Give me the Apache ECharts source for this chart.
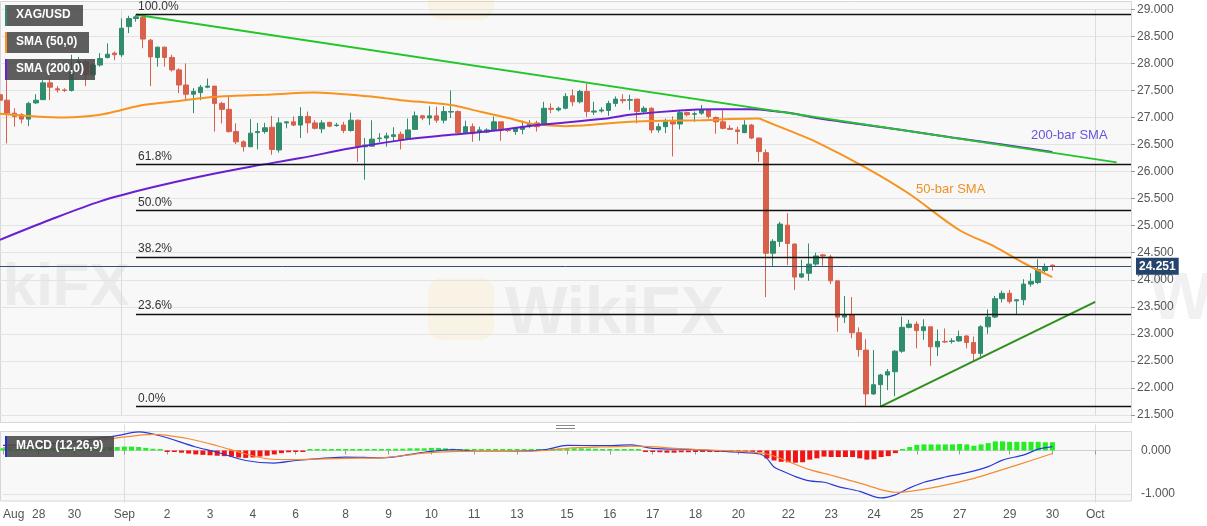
<!DOCTYPE html>
<html>
<head>
<meta charset="utf-8">
<title>XAG/USD 4H</title>
<script src="https://cdn.jsdelivr.net/npm/echarts@6.0.0/dist/echarts.min.js"></script>
<style>
  html, body { margin: 0; padding: 0; background: #ffffff; }
  #chart { width: 1207px; height: 526px; }
</style>
</head>
<body>
<div id="chart"></div>
<script>
// XAG/USD, 4-hour candles, Aug 27 - Sep 30
// [open, close, low, high]
var candles = [
    [27.42, 27.32, 27.30, 27.45], [27.32, 27.08, 26.52, 27.69], [27.08, 27.02, 26.83, 27.17], [27.05, 26.97, 26.89, 27.08],
    [26.97, 27.26, 26.84, 27.29], [27.27, 27.32, 27.25, 27.43], [27.33, 27.64, 27.32, 27.69], [27.64, 27.56, 27.32, 27.72],
    [27.53, 27.51, 27.46, 27.58], [27.51, 27.50, 27.47, 27.54], [27.50, 27.85, 27.48, 28.16], [27.86, 28.04, 27.84, 28.12],
    [28.03, 27.79, 27.58, 28.07], [27.79, 27.97, 27.77, 28.00], [27.97, 28.09, 27.94, 28.19], [28.11, 28.17, 28.09, 28.37],
    [28.19, 28.16, 28.06, 28.22], [28.16, 28.65, 28.12, 28.83], [28.68, 28.83, 28.56, 28.88], [28.83, 28.86, 28.77, 28.90],
    [28.85, 28.45, 28.28, 28.88], [28.43, 28.12, 27.58, 28.45], [28.11, 28.30, 27.94, 28.31], [28.30, 28.11, 27.94, 28.31],
    [28.11, 27.88, 27.85, 28.16], [27.88, 27.60, 27.45, 27.91], [27.60, 27.43, 27.32, 28.00], [27.43, 27.48, 27.08, 27.54],
    [27.46, 27.56, 27.32, 27.60], [27.56, 27.58, 27.54, 27.72], [27.58, 27.26, 26.74, 27.58], [27.26, 27.15, 26.89, 27.29],
    [27.15, 26.74, 26.72, 27.40], [26.74, 26.55, 26.51, 26.89], [26.55, 26.46, 26.37, 26.58], [26.46, 26.71, 26.45, 26.97],
    [26.72, 26.74, 26.41, 26.90], [26.74, 26.81, 26.70, 26.90], [26.82, 26.41, 26.31, 27.03], [26.40, 26.90, 26.35, 27.00],
    [26.90, 26.92, 26.80, 26.92], [26.92, 26.86, 26.84, 27.02], [26.86, 27.02, 26.62, 27.19], [27.02, 26.90, 26.71, 27.11],
    [26.90, 26.80, 26.78, 26.95], [26.79, 26.90, 26.71, 26.95], [26.91, 26.84, 26.82, 26.92], [26.85, 26.86, 26.83, 26.90],
    [26.86, 26.76, 26.71, 26.92], [26.76, 26.95, 26.74, 27.09], [26.95, 26.46, 26.18, 26.96], [26.46, 26.49, 25.85, 26.62],
    [26.47, 26.60, 26.46, 26.95], [26.61, 26.62, 26.54, 26.71], [26.62, 26.66, 26.46, 26.72], [26.65, 26.68, 26.55, 26.82],
    [26.69, 26.58, 26.41, 26.74], [26.60, 26.77, 26.58, 26.98], [26.78, 27.03, 26.77, 27.11], [27.03, 26.99, 26.95, 27.05],
    [26.99, 27.03, 26.86, 27.21], [27.03, 26.95, 26.90, 27.20], [26.95, 27.11, 26.89, 27.21], [27.10, 27.11, 26.99, 27.50],
    [27.11, 26.72, 26.70, 27.13], [26.72, 26.83, 26.71, 26.94], [26.83, 26.70, 26.55, 26.89], [26.74, 26.77, 26.57, 26.83],
    [26.73, 26.77, 26.71, 26.80], [26.77, 26.92, 26.76, 27.02], [26.92, 26.77, 26.57, 26.92], [26.77, 26.76, 26.73, 26.79],
    [26.74, 26.80, 26.68, 26.82], [26.78, 26.83, 26.69, 26.94], [26.84, 26.89, 26.80, 26.95], [26.90, 26.83, 26.74, 26.94],
    [26.89, 27.17, 26.86, 27.29], [27.17, 27.15, 27.08, 27.26], [27.14, 27.17, 27.11, 27.20], [27.17, 27.39, 27.15, 27.45],
    [27.40, 27.29, 27.21, 27.52], [27.29, 27.48, 27.26, 27.51], [27.48, 27.11, 27.01, 27.63], [27.10, 27.12, 27.05, 27.29],
    [27.12, 27.14, 27.09, 27.19], [27.13, 27.26, 27.03, 27.31], [27.26, 27.34, 27.20, 27.39], [27.33, 27.31, 27.26, 27.43],
    [27.32, 27.33, 27.14, 27.42], [27.34, 27.11, 26.89, 27.34], [27.11, 27.17, 27.08, 27.21], [27.17, 26.77, 26.71, 27.19],
    [26.77, 26.83, 26.72, 26.89], [26.83, 26.92, 26.71, 26.98], [26.92, 26.88, 26.28, 27.02], [26.88, 27.09, 26.78, 27.13],
    [27.09, 27.05, 27.02, 27.11], [27.06, 27.07, 26.92, 27.11], [27.08, 27.14, 27.05, 27.23], [27.14, 27.02, 26.98, 27.15],
    [27.00, 26.92, 26.70, 27.02], [26.92, 26.80, 26.78, 27.13], [26.80, 26.78, 26.77, 26.86], [26.77, 26.74, 26.51, 26.83],
    [26.72, 26.86, 26.71, 26.95], [26.86, 26.62, 26.60, 26.88], [26.62, 26.37, 26.18, 26.63], [26.35, 24.49, 23.68, 26.41],
    [24.49, 24.71, 24.24, 24.75], [24.71, 25.03, 24.61, 25.07], [25.01, 24.67, 24.27, 25.23], [24.66, 24.05, 23.81, 24.67],
    [24.05, 24.11, 24.03, 24.37], [24.12, 24.29, 23.98, 24.67], [24.29, 24.44, 24.26, 24.50], [24.46, 24.44, 24.26, 24.48],
    [24.42, 23.98, 23.92, 24.46], [23.98, 23.31, 23.04, 23.98], [23.31, 23.35, 23.20, 23.70], [23.35, 23.02, 22.92, 23.68],
    [23.02, 22.71, 22.58, 23.12], [22.70, 21.89, 21.67, 22.90], [21.89, 22.06, 21.87, 22.70], [22.06, 22.24, 21.655, 22.26],
    [22.24, 22.30, 21.96, 22.35], [22.30, 22.68, 21.85, 22.70], [22.68, 23.12, 22.65, 23.32], [23.12, 23.18, 23.10, 23.26],
    [23.18, 23.06, 22.73, 23.23], [23.06, 23.13, 22.89, 23.27], [23.13, 22.76, 22.41, 23.13], [22.76, 22.86, 22.59, 23.08],
    [22.86, 22.85, 22.83, 23.10], [22.86, 22.87, 22.82, 22.92], [22.87, 22.95, 22.85, 23.06], [22.96, 22.84, 22.73, 22.98],
    [22.84, 22.64, 22.50, 22.95], [22.64, 23.13, 22.58, 23.16], [23.13, 23.31, 23.00, 23.45], [23.31, 23.65, 23.29, 23.70],
    [23.65, 23.75, 23.58, 23.80], [23.75, 23.60, 23.56, 23.81], [23.61, 23.63, 23.35, 23.64], [23.63, 23.92, 23.53, 24.01],
    [23.92, 23.97, 23.87, 24.12], [23.95, 24.19, 23.92, 24.38], [24.17, 24.24, 24.14, 24.30], [24.27, 24.251, 24.17, 24.28]
];
var lastPrice = 24.251;

// number of bar slots on the axis (candles plus empty space to the right)
var slotCount = 159;

// day labels on the time axis: [bar index, label]
var dayTicks = [
    [0, 'Aug'], [5, '28'], [10, '30'], [17, 'Sep'], [23, '2'], [29, '3'], [35, '4'], [41, '6'],
    [48, '8'], [54, '9'], [60, '10'], [66, '11'], [72, '13'], [79, '15'], [85, '16'], [91, '17'],
    [97, '18'], [103, '20'], [110, '22'], [116, '23'], [122, '24'], [128, '25'], [134, '27'],
    [141, '29'], [147, '30'], [153, 'Oct']
];
var monthStarts = [17, 153];

// Fibonacci retracement of the Sep 1 high -> Sep 24 low
var fibHigh = 28.90;
var fibLow = 21.655;
var fibStart = 19;
var fibRatios = [1, 0.618, 0.5, 0.382, 0.236, 0];
var fibNames = ['100.0%', '61.8%', '50.0%', '38.2%', '23.6%', '0.0%'];

// moving averages, [bar index, value]
var sma50 = [
    [0, 27.07], [5, 27.02], [9, 27.00], [14, 27.05], [17, 27.14], [20, 27.23], [24, 27.29], [29, 27.37],
    [33, 27.40], [37, 27.42], [44, 27.46], [49, 27.42], [53, 27.37], [56, 27.32], [63, 27.23], [67, 27.11],
    [71, 26.99], [74, 26.89], [76, 26.86], [79, 26.84], [84, 26.88], [88, 26.92], [93, 26.94], [98, 26.95],
    [102, 26.97], [106, 26.98], [107, 26.93], [110, 26.77], [114, 26.55], [121, 26.07], [127, 25.59],
    [134, 24.92], [139, 24.61], [143, 24.31], [147, 24.05]
];
var sma200 = [
    [0, 24.74], [7, 25.11], [14, 25.45], [21, 25.70], [28, 25.91], [35, 26.09], [42, 26.25], [49, 26.43],
    [57, 26.60], [63, 26.68], [70, 26.77], [75, 26.86], [84, 26.97], [88, 27.05], [95, 27.13], [100, 27.15],
    [105, 27.15], [108, 27.12], [111, 27.07], [114, 26.99], [120, 26.88], [126, 26.77], [133, 26.63],
    [140, 26.50], [147, 26.36]
];

// trend lines, [bar index, value]
var resistanceLine = [[19, 28.90], [156, 26.17]];
var supportLine = [[123, 21.655], [153, 23.59]];

// MACD (12,26,9)
var macdLine = [
    [0, 0.12], [8, 0.17], [13, 0.27], [16, 0.34], [19, 0.43], [22, 0.34], [27, 0.08], [30, -0.04],
    [34, -0.23], [38, -0.29], [41, -0.23], [48, -0.15], [53, -0.17], [59, -0.04], [63, 0.02], [67, -0.02],
    [72, -0.02], [76, 0.02], [79, 0.12], [84, 0.11], [88, 0.13], [91, 0.05], [97, 0.02], [103, -0.04],
    [106, -0.08], [107, -0.18], [108, -0.38], [109, -0.46], [111, -0.60], [113, -0.70], [115, -0.73],
    [117, -0.83], [120, -0.94], [122, -1.06], [123, -1.09], [125, -1.02], [127, -0.86], [129, -0.73],
    [132, -0.61], [135, -0.51], [138, -0.37], [140, -0.22], [143, -0.10], [145, 0.03], [147, 0.09]
];
var signalLine = [
    [0, 0.06], [8, 0.12], [13, 0.22], [16, 0.29], [21, 0.37], [26, 0.27], [30, 0.11], [34, -0.08],
    [37, -0.19], [41, -0.21], [48, -0.18], [53, -0.17], [59, -0.06], [64, -0.02], [70, -0.02], [76, 0.0],
    [79, 0.05], [84, 0.08], [89, 0.10], [95, 0.04], [103, -0.02], [107, -0.08], [109, -0.19], [113, -0.44],
    [116, -0.57], [120, -0.75], [123, -0.90], [125, -0.96], [127, -0.94], [131, -0.83], [136, -0.64],
    [140, -0.44], [144, -0.23], [147, -0.07]
];
var macdHist = [
    0.05, 0.05, 0.04, 0.04, 0.05, 0.05, 0.05, 0.06, 0.06, 0.06, 0.06,
    0.07, 0.07, 0.07, 0.08, 0.08, 0.08, 0.09, 0.09, 0.08, 0.06, 0.04, 0.02,
    -0.01, -0.03, -0.05, -0.07, -0.09, -0.10, -0.11, -0.12, -0.13, -0.14, -0.16, -0.17, -0.16, -0.14, -0.12, -0.09, -0.06, -0.04, -0.02, -0.01,
    0.005, 0.01, 0.01, 0.01, 0.01, 0.01, 0.015, 0.02, 0.02, 0.025,
    0.03, 0.03, 0.04, 0.04, 0.05, 0.05, 0.05, 0.06, 0.06, 0.05, 0.04, 0.03,
    0.02, 0.01, 0.01, 0.005, 0.005, 0.01, 0.01, 0.015, 0.02, 0.02, 0.03, 0.035, 0.04, 0.045, 0.05, 0.05, 0.05, 0.045, 0.04, 0.03,
    0.02, 0.02, 0.01, 0.01, 0.005, -0.01, -0.03, -0.04, -0.05, -0.05, -0.04, -0.04, -0.03, -0.02, -0.02, -0.02, -0.03, -0.03, -0.03, -0.03, -0.04, -0.04,
    -0.18, -0.23, -0.26, -0.27, -0.28, -0.27, -0.21, -0.18, -0.14, -0.15, -0.15, -0.15, -0.15, -0.18, -0.21, -0.20, -0.15, -0.13, -0.06,
    0.01, 0.08, 0.13, 0.14, 0.14, 0.14, 0.14, 0.14, 0.15, 0.14, 0.11, 0.14, 0.17, 0.21, 0.21, 0.20, 0.20, 0.20, 0.20, 0.20, 0.19, 0.19
];

var UP = '#2f8d6e', DOWN = '#d9604b';
var FONT = '"Liberation Sans", Arial, sans-serif';

var categories = [];
for (var i = 0; i < slotCount; i++) categories.push(String(i));

var tickText = {};
dayTicks.forEach(function (t) { tickText[t[0]] = t[1]; });

function isTick(idx) { return tickText[idx] !== undefined; }
function isMonth(idx) { return monthStarts.indexOf(idx) >= 0; }

var fibLines = fibRatios.map(function (r, k) {
    var v = fibLow + r * (fibHigh - fibLow);
    return [
        { coord: [fibStart, v], label: { formatter: fibNames[k] } },
        { coord: [slotCount - 1, v] }
    ];
});

function legendBox(y, w, accent, text) {
    return [
        { type: 'rect', z: 100, shape: { x: 5, y: y, width: w, height: 21 },
          style: { fill: 'rgba(72,72,72,0.88)' } },
        { type: 'rect', z: 101, shape: { x: 5, y: y, width: 2, height: 21 },
          style: { fill: accent } },
        { type: 'text', z: 102, x: 16, y: y + 4,
          style: { text: text, fill: '#ffffff', font: 'bold 12px ' + FONT } }
    ];
}

var watermark = 'rgba(150,150,150,0.13)';

var graphics = [
    // panel backgrounds
    { type: 'rect', z: -10, shape: { x: 0.5, y: 1.5, width: 1131, height: 421 },
      style: { fill: '#f8f8f8', stroke: '#d6d6d6', lineWidth: 1 } },
    { type: 'rect', z: -10, shape: { x: 0.5, y: 431.5, width: 1131, height: 69.5 },
      style: { fill: '#f8f8f8', stroke: '#d6d6d6', lineWidth: 1 } },
    // watermarks
    { type: 'text', z: -5, x: 505, y: 282, style: { text: 'WikiFX', fill: watermark, font: 'bold 66px ' + FONT } },
    { type: 'text', z: -5, x: -70, y: 258, style: { text: 'WikiFX', fill: watermark, font: 'bold 60px ' + FONT } },
    { type: 'text', z: -5, x: 1150, y: 268, style: { text: 'Wi', fill: watermark, font: 'bold 66px ' + FONT } },
    { type: 'rect', z: -5, shape: { x: 428, y: 278, width: 66, height: 62, r: 14 },
      style: { fill: 'rgba(245,205,90,0.13)' } },
    { type: 'rect', z: -5, shape: { x: 428, y: -40, width: 66, height: 60, r: 14 },
      style: { fill: 'rgba(245,205,90,0.13)' } },
    // panel divider handle
    { type: 'line', z: 50, shape: { x1: 556, y1: 425.5, x2: 575, y2: 425.5 }, style: { stroke: '#888', lineWidth: 1 } },
    { type: 'line', z: 50, shape: { x1: 556, y1: 428.5, x2: 575, y2: 428.5 }, style: { stroke: '#888', lineWidth: 1 } },
    // line annotations
    { type: 'text', z: 60, x: 1031, y: 129, style: { text: '200-bar SMA', fill: '#6657d8', font: '13px ' + FONT } },
    { type: 'text', z: 60, x: 916, y: 183, style: { text: '50-bar SMA', fill: '#f0901e', font: '13px ' + FONT } }
].concat(
    legendBox(5, 78, '#2f8d6e', 'XAG/USD'),
    legendBox(32, 84, '#f7931e', 'SMA (50,0)'),
    legendBox(59, 90, '#6a1fd0', 'SMA (200,0)'),
    legendBox(436, 109, '#2233cc', 'MACD (12,26,9)')
);

var macdGridLine = ['rgba(0,0,0,0)', '#e3e3e3', 'rgba(0,0,0,0)', 'rgba(0,0,0,0)', 'rgba(0,0,0,0)',
    'rgba(0,0,0,0)', '#e3e3e3', 'rgba(0,0,0,0)', 'rgba(0,0,0,0)', 'rgba(0,0,0,0)'];

var option = {
    animation: false,
    backgroundColor: '#ffffff',
    textStyle: { fontFamily: FONT },
    graphic: graphics,
    grid: [
        { left: 0, right: 76, top: 9.3, bottom: 111 },
        { left: 0, right: 76, top: 424.4, bottom: 23.3 }
    ],
    xAxis: [
        {
            type: 'category', gridIndex: 0, data: categories, boundaryGap: false,
            axisLine: { show: false }, axisTick: { show: false }, axisLabel: { show: false },
            splitLine: { show: true, interval: function (idx) { return isMonth(idx); },
                lineStyle: { color: '#dcdcdc' } }
        },
        {
            type: 'category', gridIndex: 1, data: categories, boundaryGap: false,
            axisLine: { show: true, lineStyle: { color: '#cfcfcf' } },
            axisTick: { show: true, length: 4, interval: function (idx) { return isTick(idx); },
                lineStyle: { color: '#999' } },
            axisLabel: {
                interval: function (idx) { return isTick(idx); },
                formatter: function (val, idx) { return tickText[idx] || ''; },
                alignMinLabel: 'left',
                color: '#555', fontSize: 12, margin: 6
            },
            splitLine: { show: true, interval: function (idx) { return isMonth(idx); },
                lineStyle: { color: '#dcdcdc' } }
        }
    ],
    yAxis: [
        {
            type: 'value', gridIndex: 0, position: 'right', min: 21.5, max: 29, interval: 0.5,
            axisLine: { show: false },
            axisTick: { show: true, length: 4, lineStyle: { color: '#999' } },
            axisLabel: { color: '#555', fontSize: 12, margin: 6,
                formatter: function (v) { return v.toFixed(3); } },
            splitLine: { lineStyle: { color: '#e3e3e3' } }
        },
        {
            type: 'value', gridIndex: 1, position: 'right', min: -1.2, max: 0.6, interval: 0.2,
            axisLine: { show: false },
            axisTick: { show: false },
            axisLabel: { color: '#555', fontSize: 12, margin: 10,
                formatter: function (v) {
                    if (Math.abs(v) < 1e-6) return '0.000';
                    if (Math.abs(v + 1) < 1e-6) return '-1.000';
                    return '';
                } },
            splitLine: { lineStyle: { color: macdGridLine } }
        }
    ],
    series: [
        {
            name: 'XAG/USD', type: 'candlestick', xAxisIndex: 0, yAxisIndex: 0,
            data: candles, barWidth: 5, z: 2,
            itemStyle: { color: UP, color0: DOWN, borderColor: UP, borderColor0: DOWN, borderWidth: 1 },
            markLine: {
                silent: true, symbol: ['none', 'none'], animation: false,
                lineStyle: { color: '#111', width: 1.3, type: 'solid' },
                label: { show: true, position: 'insideStartTop', color: '#333', fontSize: 12, distance: 2 },
                data: fibLines.concat([{
                    yAxis: lastPrice,
                    lineStyle: { color: '#34506f', width: 1, type: 'solid' },
                    label: {
                        position: 'end', formatter: lastPrice.toFixed(3), color: '#fff',
                        backgroundColor: '#24446c', padding: [3, 3, 2, 3],
                        fontWeight: 'bold', fontSize: 12, distance: 5
                    }
                }])
            }
        },
        {
            name: 'SMA (50,0)', type: 'line', xAxisIndex: 0, yAxisIndex: 0, data: sma50,
            smooth: 0.3, symbol: 'none', z: 3, lineStyle: { color: '#f7931e', width: 2 }
        },
        {
            name: 'SMA (200,0)', type: 'line', xAxisIndex: 0, yAxisIndex: 0, data: sma200,
            smooth: 0.3, symbol: 'none', z: 3, lineStyle: { color: '#6a1fd0', width: 2 }
        },
        {
            name: 'resistance', type: 'line', xAxisIndex: 0, yAxisIndex: 0, data: resistanceLine,
            symbol: 'none', z: 4, lineStyle: { color: '#22c52a', width: 2 }
        },
        {
            name: 'support', type: 'line', xAxisIndex: 0, yAxisIndex: 0, data: supportLine,
            symbol: 'none', z: 4, lineStyle: { color: '#2f8f1d', width: 2 }
        },
        {
            name: 'histogram', type: 'bar', xAxisIndex: 1, yAxisIndex: 1, data: macdHist,
            barWidth: 5, barMinHeight: 1.5,
            itemStyle: { color: function (p) { return p.value >= 0 ? '#22ee22' : '#f01414'; } }
        },
        {
            name: 'MACD', type: 'line', xAxisIndex: 1, yAxisIndex: 1, data: macdLine,
            smooth: 0.3, symbol: 'none', z: 4, lineStyle: { color: '#2a3ad6', width: 1.2 }
        },
        {
            name: 'signal', type: 'line', xAxisIndex: 1, yAxisIndex: 1, data: signalLine,
            smooth: 0.3, symbol: 'none', z: 4, lineStyle: { color: '#f58a32', width: 1.2 }
        }
    ]
};

var myChart = echarts.init(document.getElementById('chart'));
myChart.setOption(option);
</script>
</body>
</html>
